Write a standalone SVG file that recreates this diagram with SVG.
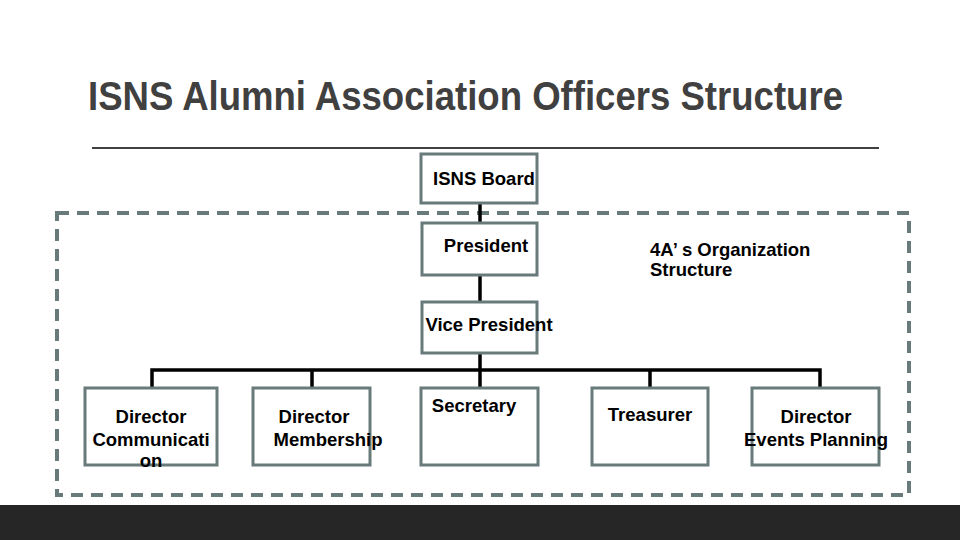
<svg xmlns="http://www.w3.org/2000/svg" width="960" height="540" viewBox="0 0 960 540">
<style>
.box{fill:#ffffff;stroke:#687a7a;stroke-width:3}
.lbl{font-family:"Liberation Sans",Arial,sans-serif;font-weight:bold;font-size:18.5px;fill:#000}
.con{stroke:#000;stroke-width:3.5;fill:none}
</style>
<rect x="0" y="0" width="960" height="540" fill="#ffffff"/>
<text x="88" y="110" font-family="'Liberation Sans',Arial,sans-serif" font-weight="bold" font-size="40" fill="#404040" textLength="755" lengthAdjust="spacingAndGlyphs">ISNS Alumni Association Officers Structure</text>
<line x1="92" y1="148" x2="879" y2="148" stroke="#404040" stroke-width="2"/>
<rect x="57" y="213" width="852" height="282" fill="none" stroke="#687a7a" stroke-width="4" stroke-dasharray="12,8"/>
<g id="connectors">
<line class="con" x1="480" y1="203" x2="480" y2="223"/>
<line class="con" x1="480" y1="275" x2="480" y2="302"/>
<line class="con" x1="480" y1="353" x2="480" y2="370"/>
<polyline class="con" points="152,388 152,370 820,370 820,388"/>
<line class="con" x1="312" y1="370" x2="312" y2="388"/>
<line class="con" x1="480" y1="370" x2="480" y2="388"/>
<line class="con" x1="650" y1="370" x2="650" y2="388"/>
</g>
<g id="isns-board"><rect class="box" x="421" y="154" width="116" height="49"/><text class="lbl" x="484" y="185" text-anchor="middle">ISNS Board</text></g>
<g id="president"><rect class="box" x="422" y="223" width="115" height="52"/><text class="lbl" x="486" y="252" text-anchor="middle">President</text></g>
<g id="org-label"><text class="lbl" x="650" y="256">4A’ s Organization</text><text class="lbl" x="650" y="276">Structure</text></g>
<g id="vice-president"><rect class="box" x="422" y="302" width="115" height="51"/><text class="lbl" x="489" y="331" text-anchor="middle">Vice President</text></g>
<g id="dir-communication"><rect class="box" x="85" y="388" width="132" height="77"/><text class="lbl" x="151" y="423" text-anchor="middle">Director</text><text class="lbl" x="151" y="446" text-anchor="middle">Communicati</text><text class="lbl" x="151" y="467" text-anchor="middle">on</text></g>
<g id="dir-membership"><rect class="box" x="253" y="388" width="117" height="77"/><text class="lbl" x="314" y="423" text-anchor="middle">Director</text><text class="lbl" x="328" y="446" text-anchor="middle">Membership</text></g>
<g id="secretary"><rect class="box" x="421" y="388" width="117" height="77"/><text class="lbl" x="474" y="412" text-anchor="middle">Secretary</text></g>
<g id="treasurer"><rect class="box" x="592" y="388" width="116" height="77"/><text class="lbl" x="650" y="421" text-anchor="middle">Treasurer</text></g>
<g id="dir-events"><rect class="box" x="752" y="388" width="127" height="77"/><text class="lbl" x="816" y="423" text-anchor="middle">Director</text><text class="lbl" x="816" y="446" text-anchor="middle">Events Planning</text></g>
<rect x="0" y="505" width="960" height="35" fill="#262626"/>
</svg>
